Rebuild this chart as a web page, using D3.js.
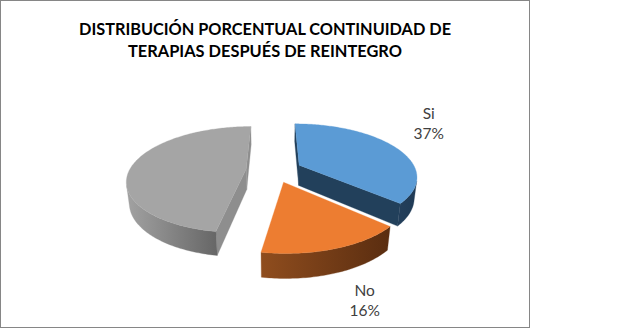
<!DOCTYPE html>
<html><head><meta charset="utf-8">
<script src="https://cdn.jsdelivr.net/npm/d3@7"></script>
<style>html,body{margin:0;padding:0;background:#fff;} svg{display:block}</style>
</head><body>
<svg id="chart" width="644" height="329"></svg>
<script>
// ---- data ----
const titleLines = ["DISTRIBUCIÓN PORCENTUAL CONTINUIDAD DE", "TERAPIAS DESPUÉS DE REINTEGRO"];
const categories = ["Si", "No", ""];
const values = [36.8, 15.8, 47.4];

// ---- style ----
const topColors  = ["#5B9BD5", "#ED7D31", "#A5A5A5"];
const sideColors = [["#233F5B", "#1F3A55"], ["#8F4D1E", "#5A2D10"], ["#A2A2A2", "#666666"]];
const cutColors  = ["#22405B", "#7A3F16", "#8E8E8E"];

const svg = d3.select("#chart");
svg.append("rect").attr("x", 0.5).attr("y", 0.5).attr("width", 529).attr("height", 327)
  .attr("fill", "#fff").attr("stroke", "#868686").attr("stroke-width", 1);

// title
const titleG = svg.append("g").attr("font-family", "Lato, 'Open Sans', sans-serif")
  .attr("font-weight", "bold").attr("font-size", 17).attr("fill", "#000");
const titleW = [372, 274];
titleLines.forEach((t, i) => {
  titleG.append("text").attr("x", 265).attr("y", 34.5 + i * 22.3)
    .attr("text-anchor", "middle").attr("textLength", titleW[i])
    .attr("lengthAdjust", "spacingAndGlyphs").text(t);
});

// ---- 3D projection ----
const F = 525, D = 4.5, S = 0.44, C = 0.9, X0 = 274, Y0 = 170, H = 0.2, EXPL = 0.24;
function project(u, v, h) {
  const yc = v * S + h * C;
  const z = D - v * C + h * S;
  return [X0 + F * u / z, Y0 + F * yc / z];
}
const norm = C * C + S * S;
const cam = [0, D * C / norm];

const pie = d3.pie().sort(null).value(d => d).startAngle(0).endAngle(2 * Math.PI);
const arcs = pie(values).map((a, i) => {
  const m = (a.startAngle + a.endAngle) / 2;
  return { i, a0: a.startAngle, a1: a.endAngle, m,
    ou: EXPL * Math.sin(m), ov: -EXPL * Math.cos(m) };
});

const line = d3.line();
const defs = svg.append("defs");
const pieG = svg.append("g");

function rimPt(s, a, h) { return project(s.ou + Math.sin(a), s.ov - Math.cos(a), h); }
function apex(s, h) { return project(s.ou, s.ov, h); }

const order = arcs.slice().sort((p, q) => p.ov - q.ov);
order.forEach(s => {
  const g = pieG.append("g");
  const n = Math.max(2, Math.ceil((s.a1 - s.a0) / (Math.PI / 180)));
  const angs = d3.range(n + 1).map(k => s.a0 + (s.a1 - s.a0) * k / n);

  // cut faces
  const faces = [
    { a: s.a0, nrm: [-Math.cos(s.a0), -Math.sin(s.a0)] },
    { a: s.a1, nrm: [Math.cos(s.a1), Math.sin(s.a1)] }
  ];
  faces.forEach(f => {
    const dot = f.nrm[0] * (cam[0] - s.ou) + f.nrm[1] * (cam[1] - s.ov);
    if (dot > 0) {
      const pts = [apex(s, 0), rimPt(s, f.a, 0), rimPt(s, f.a, H), apex(s, H)];
      g.append("path").attr("d", line(pts) + "Z").attr("fill", cutColors[s.i])
        .attr("stroke", cutColors[s.i]).attr("stroke-width", 0.3);
    }
  });

  // rim side (visible part)
  const vis = angs.filter(a => {
    const qu = s.ou + Math.sin(a), qv = s.ov - Math.cos(a);
    return Math.sin(a) * (cam[0] - qu) + (-Math.cos(a)) * (cam[1] - qv) > 0;
  });
  if (vis.length > 1) {
    const topPts = vis.map(a => rimPt(s, a, 0));
    const botPts = vis.map(a => rimPt(s, a, H)).reverse();
    const all = topPts.concat(botPts);
    const xs = all.map(p => p[0]);
    const gid = "side" + s.i;
    const grad = defs.append("linearGradient").attr("id", gid)
      .attr("gradientUnits", "userSpaceOnUse")
      .attr("x1", d3.min(xs)).attr("x2", d3.max(xs)).attr("y1", 0).attr("y2", 0);
    grad.append("stop").attr("offset", 0).attr("stop-color", sideColors[s.i][0]);
    grad.append("stop").attr("offset", 1).attr("stop-color", sideColors[s.i][1]);
    g.append("path").attr("d", line(all) + "Z").attr("fill", `url(#${gid})`)
      .attr("stroke", `url(#${gid})`).attr("stroke-width", 0.3);
  }

  // top face
  const top = [apex(s, 0)].concat(angs.map(a => rimPt(s, a, 0)));
  g.append("path").attr("d", line(top) + "Z").attr("fill", topColors[s.i])
    .attr("stroke", topColors[s.i]).attr("stroke-width", 0.3);
});

// labels
const labG = svg.append("g").attr("font-family", "Lato, 'Open Sans', sans-serif")
  .attr("font-size", 15.5).attr("fill", "#404040").attr("text-anchor", "middle");
const total = d3.sum(values);
arcs.forEach(s => {
  if (!categories[s.i]) return;
  const p = project(s.ou + 1.4 * Math.sin(s.m), s.ov - 1.4 * Math.cos(s.m), 0);
  const pct = Math.round(values[s.i] / total * 100) + "%";
  const upper = Math.cos(s.m) > 0;
  const b1 = upper ? p[1] - 21 : p[1] + 11;
  labG.append("text").attr("x", p[0]).attr("y", b1).text(categories[s.i]);
  labG.append("text").attr("x", p[0]).attr("y", b1 + 20).text(pct);
});
</script>
</body></html>
